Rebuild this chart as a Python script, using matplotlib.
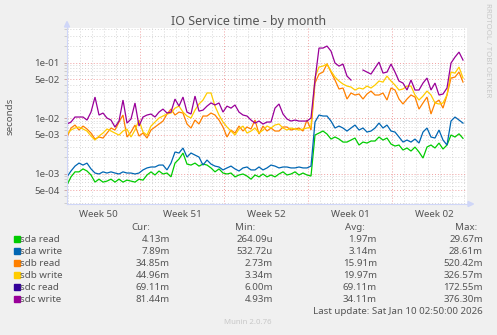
import numpy as np
import matplotlib
matplotlib.use('Agg')
import matplotlib.pyplot as plt
from matplotlib.patches import Rectangle, Polygon
from matplotlib.lines import Line2D
from matplotlib.ticker import FixedLocator, NullFormatter

W, H = 497, 335
plt.rcParams['font.family'] = ['Noto Sans', 'DejaVu Sans']

# sample times: hours since the start of the 33-day window (8-hour steps)
hours = np.arange(0, 800, 8)

# values in seconds
sda_read = [0.00062, 0.00087, 0.00107, 0.00107, 0.00121, 0.00111, 0.00094, 0.00070, 0.00079, 0.00070,
            0.00073, 0.00079, 0.00070, 0.00079, 0.00070, 0.00076, 0.00073, 0.00070, 0.00079, 0.00076,
            0.00094, 0.00107, 0.00094, 0.00111, 0.00098, 0.00102, 0.00087, 0.00154, 0.00182, 0.00234,
            0.00148, 0.00142, 0.00154, 0.00136, 0.00148, 0.00142, 0.00126, 0.00107, 0.00121, 0.00102,
            0.00098, 0.00102, 0.00087, 0.00094, 0.00098, 0.00090, 0.00079, 0.00094, 0.00087, 0.00098,
            0.00087, 0.00094, 0.00087, 0.00098, 0.00107, 0.00094, 0.00098, 0.00107, 0.00094, 0.00102,
            0.00094, 0.00090, 0.00494, 0.00536, 0.00583, 0.00515, 0.00418, 0.00455, 0.00418, 0.00369,
            0.00369, 0.00401, 0.00436, 0.00326, 0.00369, 0.00354, 0.00385, 0.00385, 0.00455, 0.00401,
            0.00436, 0.00340, 0.00313, 0.00326, 0.00265, 0.00288, 0.00254, 0.00300, 0.00244, 0.00190,
            0.00300, 0.00326, 0.00288, 0.00354, 0.00276, 0.00326, 0.00494, 0.00455, 0.00520, 0.00430]

sda_write = [0.00087, 0.00111, 0.00136, 0.00154, 0.00142, 0.00154, 0.00121, 0.00102, 0.00098, 0.00107,
             0.00102, 0.00107, 0.00102, 0.00098, 0.00107, 0.00102, 0.00102, 0.00098, 0.00102, 0.00116,
             0.00126, 0.00131, 0.00131, 0.00142, 0.00142, 0.00116, 0.00154, 0.00244, 0.00234, 0.00288,
             0.00198, 0.00234, 0.00215, 0.00198, 0.00142, 0.00175, 0.00148, 0.00136, 0.00131, 0.00116,
             0.00126, 0.00136, 0.00121, 0.00111, 0.00126, 0.00131, 0.00116, 0.00116, 0.00131, 0.00116,
             0.00126, 0.00142, 0.00136, 0.00126, 0.00131, 0.00131, 0.00126, 0.00126, 0.00131, 0.00126,
             0.00126, 0.00136, 0.00847, 0.01133, 0.01087, 0.01087, 0.00882, 0.00660, 0.00717, 0.00660,
             0.00583, 0.00660, 0.00748, 0.00608, 0.00660, 0.00559, 0.00583, 0.00660, 0.00812, 0.00660,
             0.00748, 0.00583, 0.00559, 0.00455, 0.00369, 0.00401, 0.00369, 0.00418, 0.00354, 0.00559,
             0.00660, 0.00455, 0.00436, 0.00608, 0.00401, 0.00326, 0.00882, 0.01043, 0.00920, 0.00810]

sdb_read = [0.00455, 0.00660, 0.00748, 0.00608, 0.00717, 0.00634, 0.00536, 0.00418, 0.00455, 0.00436,
            0.00536, 0.00660, 0.00608, 0.00847, 0.01133, 0.00455, 0.00559, 0.00748, 0.00474, 0.00536,
            0.00436, 0.00608, 0.00689, 0.00780, 0.00882, 0.01181, 0.01450, 0.01133, 0.01280, 0.01230,
            0.00780, 0.00660, 0.00920, 0.00780, 0.01087, 0.01087, 0.01230, 0.01133, 0.00920, 0.00689,
            0.00455, 0.00608, 0.00536, 0.00717, 0.00583, 0.00689, 0.00634, 0.00920, 0.00515, 0.00717,
            0.00583, 0.00660, 0.00583, 0.00583, 0.00689, 0.00689, 0.00608, 0.00634, 0.00660, 0.00583,
            0.00920, 0.00608, 0.04270, 0.06200, 0.06740, 0.09500, 0.06740, 0.04840, 0.03340, 0.03480,
            0.02200, 0.02830, 0.02600, 0.02710, 0.02200, 0.02710, 0.03070, 0.02600, 0.02600, 0.02830,
            0.02110, 0.03480, 0.03200, 0.02200, 0.01790, 0.02200, 0.02600, 0.02390, 0.01450, 0.01870,
            0.02390, 0.01181, 0.01870, 0.02110, 0.01510, 0.02600, 0.05260, 0.05480, 0.06740, 0.04450]

sdb_write = [0.00515, 0.00608, 0.00660, 0.00689, 0.00634, 0.00583, 0.00474, 0.00401, 0.00474, 0.00536,
             0.00634, 0.00583, 0.00536, 0.00494, 0.00583, 0.00634, 0.00455, 0.00608, 0.00920, 0.00559,
             0.00494, 0.00717, 0.00847, 0.01000, 0.01087, 0.01181, 0.01230, 0.01510, 0.01640, 0.01280,
             0.01087, 0.01000, 0.01390, 0.01790, 0.02110, 0.02830, 0.02830, 0.01640, 0.01133, 0.00847,
             0.00689, 0.00583, 0.00494, 0.00634, 0.00717, 0.00536, 0.00583, 0.00660, 0.00536, 0.00608,
             0.00717, 0.00660, 0.00748, 0.00780, 0.00660, 0.00608, 0.00660, 0.00634, 0.00608, 0.00634,
             0.00660, 0.00689, 0.05480, 0.08310, 0.08660, 0.09400, 0.07030, 0.05480, 0.04640, 0.04100,
             0.03770, 0.03620, 0.03200, 0.03480, 0.03340, 0.03770, 0.03480, 0.03930, 0.04640, 0.04450,
             0.05710, 0.04640, 0.03930, 0.03200, 0.03340, 0.03770, 0.03770, 0.02600, 0.02110, 0.02490,
             0.03070, 0.02600, 0.01870, 0.01790, 0.01870, 0.02600, 0.06740, 0.06460, 0.08310, 0.05260]

sdc_write = [0.00780, 0.00847, 0.01043, 0.01043, 0.01043, 0.00920, 0.01280, 0.02390, 0.01133, 0.01230,
             0.01000, 0.00920, 0.00689, 0.00882, 0.02110, 0.00812, 0.00960, 0.01870, 0.00717, 0.01043,
             0.01133, 0.01181, 0.01043, 0.01280, 0.01450, 0.01230, 0.01280, 0.02200, 0.01640, 0.02390,
             0.01280, 0.01181, 0.02490, 0.01330, 0.01390, 0.01640, 0.01870, 0.01720, 0.01870, 0.01280,
             0.01640, 0.01510, 0.01720, 0.01280, 0.01133, 0.01087, 0.00920, 0.00812, 0.00882, 0.00780,
             0.00847, 0.00847, 0.01510, 0.01790, 0.01181, 0.00960, 0.00882, 0.00920, 0.00882, 0.00882,
             0.00882, 0.01000, 0.04840, 0.18260, 0.18260, 0.19850, 0.16100, 0.09800, 0.08650, 0.09400,
             0.05710, 0.04840, np.nan, np.nan, 0.07330, 0.06740, 0.06200, 0.07970, 0.10200, 0.06460,
             0.06740, 0.09400, 0.06740, 0.04640, 0.04270, 0.03200, 0.04840, 0.03200, 0.03200, 0.04270,
             0.05260, 0.03200, 0.04270, 0.02600, 0.02710, 0.03480, 0.09800, 0.12550, 0.15450, 0.11100]

series_names = ['sda read', 'sda write', 'sdb read', 'sdb write', 'sdc read', 'sdc write']
series_colors = ['#00CC00', '#0066B3', '#FF8000', '#FFCC00', '#330099', '#990099']
cur_vals = ['4.13m', '7.89m', '34.85m', '44.96m', '69.11m', '81.44m']
min_vals = ['264.09u', '532.72u', '2.73m', '3.34m', '6.00m', '4.93m']
avg_vals = ['1.97m', '3.14m', '15.91m', '19.97m', '69.11m', '34.11m']
max_vals = ['29.67m', '28.61m', '520.42m', '326.57m', '172.55m', '376.30m']

week_labels = ['Week 50', 'Week 51', 'Week 52', 'Week 01', 'Week 02']
ytick_vals = [5e-4, 1e-3, 5e-3, 1e-2, 5e-2, 1e-1]
ytick_labels = ['5e-04', '1e-03', '5e-03', '1e-02', '5e-02', '1e-01']

TXT = '#555555'
GRID = '#D6D6D6'
MGRID = '#F0A0A0'
AXIS = '#CFD6F8'

def fx(x):
    return x / W

def fy(y):
    return 1 - y / H

fig = plt.figure(figsize=(W / 100, H / 100), dpi=100, facecolor='#F0F0F0')
ax = fig.add_axes([fx(67), fy(204), 400 / W, 176 / H])
ax.set_facecolor('white')
ax.set_yscale('log')
span_days = 400 / 12.0
ax.set_xlim(0, span_days)
ax.set_ylim(2.82e-4, 0.42)

days = hours / 24.0
week0 = 6.083  # first week boundary (days from start)

# grid
for k in range(-7, 30):
    d = week0 + k
    if 0 < d < span_days:
        major = (k % 7 == 0)
        ax.axvline(d, color=MGRID if major else GRID, lw=0.7,
                   ls=(0, (1, 2)), zorder=0.5)
minor_vals = []
for dec in [1e-4, 1e-3, 1e-2, 1e-1]:
    for m in [2, 3, 4, 6, 7, 8, 9]:
        v = m * dec
        if 2.82e-4 < v < 0.42:
            minor_vals.append(v)
            ax.axhline(v, color=GRID, lw=0.7, ls=(0, (1, 2)), zorder=0.5)
for v in ytick_vals:
    ax.axhline(v, color=MGRID, lw=0.7, ls=(0, (1, 2)), zorder=0.6)

lw = 0.9
data = [sda_read, sda_write, sdb_read, sdb_write, None, sdc_write]
for vals, c in zip(data, series_colors):
    if vals is None:
        continue
    ax.plot(days, vals, color=c, lw=lw, zorder=2, solid_joinstyle='miter')

for s in ax.spines.values():
    s.set_visible(False)

ax.set_yticks(ytick_vals)
ax.set_yticklabels(ytick_labels)
ax.yaxis.set_minor_locator(FixedLocator(minor_vals))
ax.yaxis.set_minor_formatter(NullFormatter())
ax.tick_params(axis='y', which='major', length=2.2, width=0.6, color='#C8A0A0',
               labelsize=7, labelcolor=TXT, pad=3.2)
ax.tick_params(axis='y', which='minor', length=2.2, width=0.6, color='#C8C8C8')
ax.set_xticks([week0 - 3.5 + 7 * k for k in range(5)])
ax.set_xticklabels(week_labels)
ax.tick_params(axis='x', length=0, labelsize=7, labelcolor=TXT, pad=4)

# axis lines and arrows
fig.add_artist(Line2D([fx(67), fx(67)], [fy(204), fy(25)], color=AXIS, lw=0.8))
fig.add_artist(Line2D([fx(67), fx(469)], [fy(204), fy(204)], color=AXIS, lw=0.8))
fig.add_artist(Polygon([[fx(64.5), fy(27)], [fx(69.5), fy(27)], [fx(67), fy(21.5)]],
                       closed=True, color=AXIS, transform=fig.transFigure))
fig.add_artist(Polygon([[fx(468), fy(201.5)], [fx(468), fy(206.5)], [fx(473.5), fy(204)]],
                       closed=True, color=AXIS, transform=fig.transFigure))

# texts
fig.text(fx(248.5), fy(21), 'IO Service time - by month', ha='center', va='center',
         fontsize=9, color=TXT)
fig.text(fx(10), fy(116), 'seconds', ha='center', va='center', rotation=90,
         fontsize=7, color=TXT)
fig.text(fx(487), fy(50), 'RRDTOOL / TOBI OETIKER', ha='center', va='center',
         rotation=270, fontsize=5.6, color='#C8C8C8')

hdr_y = 227
fig.text(fx(150), fy(hdr_y), 'Cur:', ha='right', va='center', fontsize=7, color=TXT)
fig.text(fx(255), fy(hdr_y), 'Min:', ha='right', va='center', fontsize=7, color=TXT)
fig.text(fx(365), fy(hdr_y), 'Avg:', ha='right', va='center', fontsize=7, color=TXT)
fig.text(fx(477), fy(hdr_y), 'Max:', ha='right', va='center', fontsize=7, color=TXT)

row_y = [239.3, 251, 263.3, 275, 287.3, 299]
for i, name in enumerate(series_names):
    y = row_y[i]
    fig.add_artist(Rectangle((fx(14), fy(y + 3)), 6 / W, 6 / H, color=series_colors[i],
                             transform=fig.transFigure))
    fig.text(fx(20.5), fy(y), name, ha='left', va='center', fontsize=7, color=TXT)
    fig.text(fx(170), fy(y), cur_vals[i], ha='right', va='center', fontsize=7, color=TXT)
    fig.text(fx(273), fy(y), min_vals[i], ha='right', va='center', fontsize=7, color=TXT)
    fig.text(fx(377), fy(y), avg_vals[i], ha='right', va='center', fontsize=7, color=TXT)
    fig.text(fx(483), fy(y), max_vals[i], ha='right', va='center', fontsize=7, color=TXT)

fig.text(fx(483), fy(311.5), 'Last update: Sat Jan 10 02:50:00 2026', ha='right',
         va='center', fontsize=7, color=TXT)
fig.text(fx(248), fy(322.5), 'Munin 2.0.76', ha='center', va='center', fontsize=5.6,
         color='#C8C8C8')

fig.savefig('out.png', dpi=100, facecolor=fig.get_facecolor())
